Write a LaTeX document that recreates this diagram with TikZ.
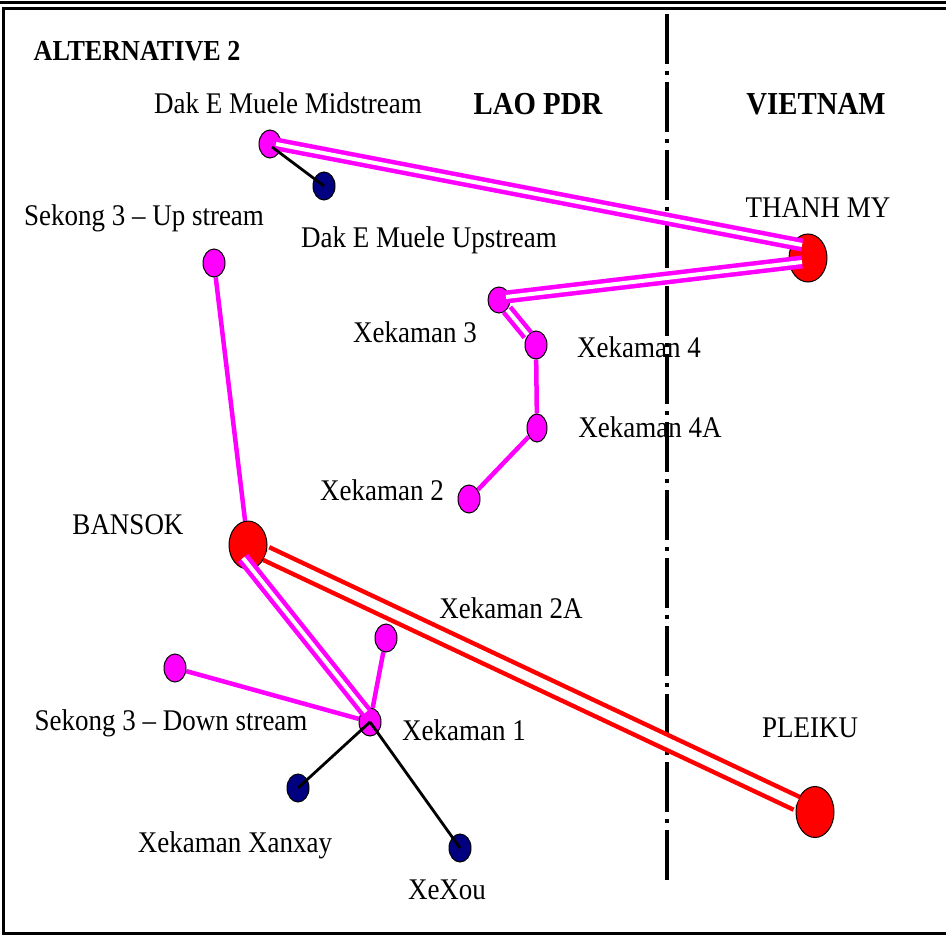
\documentclass[tikz,border=0pt]{standalone}
\usepackage{fontspec}
\setmainfont[FakeStretch=0.9]{Liberation Serif}
\usepackage{xcolor}
\usetikzlibrary{shapes.geometric, calc, backgrounds}

\definecolor{hydro}{RGB}{255,0,255}
\definecolor{substn}{RGB}{255,0,0}
\definecolor{smallhp}{RGB}{0,0,128}

\begin{document}
\begin{tikzpicture}[
  x=0.5pt, y=-0.5pt,
  hp/.style={
    ellipse, draw=black, line width=0.5pt, inner sep=0pt,
    minimum width=11pt, minimum height=14pt, fill=hydro
  },
  minorhp/.style={hp, fill=smallhp},
  sub/.style={
    ellipse, draw=black, line width=0.5pt, inner sep=0pt,
    minimum width=19pt, minimum height=24pt, fill=substn
  },
  lbl/.style={inner sep=0pt, font=\fontsize{15}{17}\selectfont},
  country/.style={inner sep=0pt, font=\fontsize{16}{18}\selectfont\bfseries},
  dblline/.style={draw=hydro, line width=2.25pt, double=white, double distance=2pt},
  feeder/.style={draw=hydro, line width=2.25pt},
  tieline/.style={draw=substn, line width=2.25pt, double=white, double distance=4.75pt},
  spur/.style={draw=black, line width=1.4pt},
  frontier/.style={line width=2pt, dash pattern=on 25pt off 3.5pt on 2pt off 3.5pt}
]
\useasboundingbox (0,0) rectangle (946,936);

%% Frame
\draw[line width=1.5pt] (0,3) -- (946,3);
\draw[line width=1.5pt] (946,9) -- (3,9) -- (3,933) -- (946,933);

%% Border line
\coordinate (bdtop) at (667,14);
\coordinate (bdbot) at (667,885);
\draw[frontier] (bdtop) -- (bdbot);

%% Titles
\node[inner sep=0pt, font=\fontsize{14.5}{16}\selectfont\bfseries] (title) at (137,51) {ALTERNATIVE 2};
\node[country] (lao) at (538,104) {LAO PDR};
\node[country] (vn) at (816,104) {VIETNAM};

%% Substations
\node[sub] (thanhmy) at (808,258) {};
\node[sub] (bansok) at (248,545) {};
\node[sub, minimum height=25.5pt] (pleiku) at (815,812) {};

%% Hydropower plants
\node[hp] (dakmid) at (270,144) {};
\node[minorhp] (dakup) at (324,186) {};
\node[hp] (sekup) at (214,263) {};
\node[hp, minimum height=13pt] (xk3) at (499,300) {};
\node[hp] (xk4) at (536,345) {};
\node[hp, minimum width=10pt] (xk4a) at (537,428) {};
\node[hp] (xk2) at (469,499) {};
\node[hp] (xk2a) at (386,638) {};
\node[hp] (sekdown) at (175,668) {};
\node[hp] (xk1) at (370,722) {};
\node[minorhp] (xanxay) at (298,788) {};
\node[minorhp] (xexou) at (460,848) {};

%% Labels
\node[lbl] (l_dakmid) at (288,103) {Dak E Muele Midstream};
\node[lbl] (l_thanhmy) at (818,208) {THANH MY};
\node[lbl] (l_sekup) at (144,218) {Sekong 3 -- Up stream};
\node[lbl] (l_dakup) at (429,240) {Dak E Muele Upstream};
\node[lbl] (l_xk3) at (415,332) {Xekaman 3};
\node[lbl] (l_xk4) at (639,347) {Xekaman 4};
\node[lbl] (l_xk4a) at (650,427) {Xekaman 4A};
\node[lbl] (l_xk2) at (382,490) {Xekaman 2};
\node[lbl] (l_bansok) at (128,525) {BANSOK};
\node[lbl] (l_xk2a) at (511,608) {Xekaman 2A};
\node[lbl] (l_sekdown) at (171,723) {Sekong 3 -- Down stream};
\node[lbl] (l_xk1) at (464,730) {Xekaman 1};
\node[lbl] (l_pleiku) at (810,728) {PLEIKU};
\node[lbl] (l_xanxay) at (235,845) {Xekaman Xanxay};
\node[lbl] (l_xexou) at (447,890) {XeXou};

%% Single lines (behind the plants)
\begin{scope}[on background layer]
\draw[feeder] (sekup) -- (bansok);
\draw[feeder] (xk4) -- (xk4a);
\draw[feeder] (xk4a) -- (xk2);
\draw[feeder] (xk2a) -- (xk1);
\draw[feeder] (sekdown) -- (xk1);
\end{scope}

%% Double lines
\draw[dblline] ($(dakmid.center)+(6,0)$) -- ($(thanhmy.center)+(-6,-13)$);
\draw[dblline] ($(xk3.center)+(7,-3)$) -- ($(thanhmy.center)+(-6,4)$);
\draw[dblline] (xk3) -- (xk4);
\draw[dblline] ($(bansok.center)+(-5,13)$) -- ($(xk1.center)+(-4,-10)$);
\draw[tieline] (bansok) -- (pleiku);

%% Spurs to small plants
\draw[spur] ($(dakmid.center)+(2,3)$) -- (dakup.center);
\draw[spur] (xk1.center) -- (xanxay.center);
\draw[spur] (xk1.center) -- (xexou.center);

\end{tikzpicture}
\end{document}
